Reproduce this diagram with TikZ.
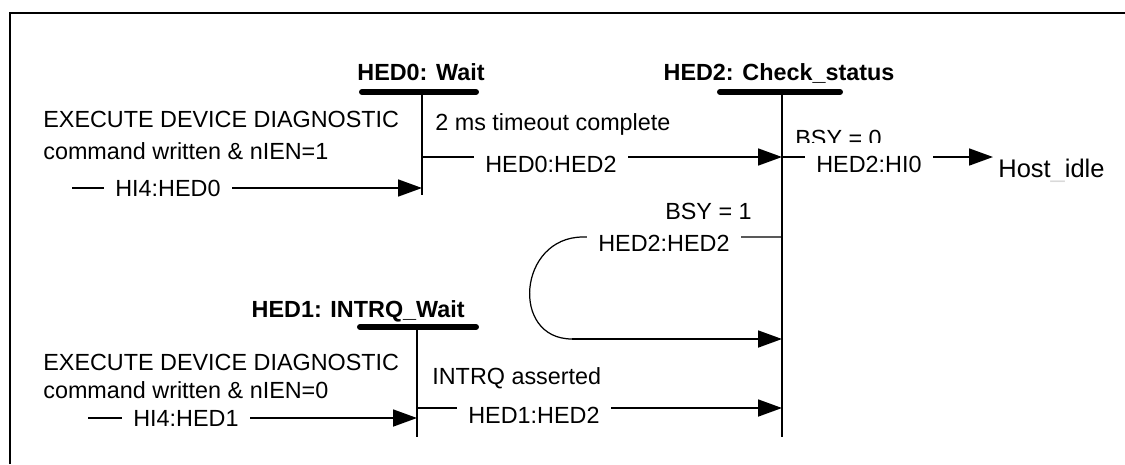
\documentclass[tikz,border=0pt]{standalone}
\usepackage{fontspec}
\setmainfont{Liberation Sans}
\usetikzlibrary{arrows.meta}
\begin{document}
\begin{tikzpicture}[x=0.02cm,y=-0.02cm,
  lbl/.style={font=\fontsize{13.3}{15}\selectfont, inner sep=0pt},
  ttl/.style={font=\fontsize{13.3}{15}\selectfont\bfseries, inner sep=0pt},
  cut/.style={lbl, fill=white, inner xsep=0.22cm, inner ysep=1pt, anchor=base west},
  bar/.style={line width=3.4pt, line cap=round},
  vline/.style={line width=1pt},
  conn/.style={line width=1pt, -{Triangle[length=0.48cm,width=0.34cm]}},
  loopline/.style={line width=0.7pt},
  frame/.style={line width=1.6pt}]
\useasboundingbox (0,0) rectangle (1125,464);
\draw[frame] (10,464) -- (10,13) -- (1125,13);

% state HED0
\node[ttl, anchor=base] (t0) at (421,80) {HED0: Wait};
\coordinate (b0l) at (362,92); \coordinate (b0r) at (476,92);
\draw[bar] (b0l) -- (b0r);
\coordinate (v0t) at (422,92); \coordinate (v0b) at (422,195);
\draw[vline] (v0t) -- (v0b);

% state HED2
\node[ttl, anchor=base] (t2) at (779,80) {HED2: Check\_status};
\coordinate (b2l) at (720,92); \coordinate (b2r) at (840,92);
\draw[bar] (b2l) -- (b2r);
\coordinate (v2t) at (782,92); \coordinate (v2b) at (782,437);
\draw[vline] (v2t) -- (v2b);

% state HED1
\node[ttl, anchor=base east] (t1) at (465,317) {HED1: INTRQ\_Wait};
\coordinate (b1l) at (360,327); \coordinate (b1r) at (476,327);
\draw[bar] (b1l) -- (b1r);
\coordinate (v1t) at (417,327); \coordinate (v1b) at (417,437);
\draw[vline] (v1t) -- (v1b);

% HI4:HED0
\node[lbl, anchor=base west] (c0a) at (43,127) {EXECUTE DEVICE DIAGNOSTIC};
\node[lbl, anchor=base west] (c0b) at (43,159) {command written \& nIEN=1};
\coordinate (a0s) at (72,188); \coordinate (a0e) at (422,188);
\draw[conn] (a0s) -- (a0e);
\node[cut] (l0) at (104,196) {HI4:HED0};

% HED0:HED2
\node[lbl, anchor=base west] (c02) at (435,130) {2 ms timeout complete};
\coordinate (a02s) at (422,157); \coordinate (a02e) at (782,157);
\draw[conn] (a02s) -- (a02e);
\node[cut] (l02) at (474,172) {HED0:HED2};

% HED2:HI0
\begin{scope}
\clip (790,100) rectangle (900,142);
\node[lbl, anchor=base west] (c2i) at (795,146) {BSY = 0};
\end{scope}
\node[font=\fontsize{14.5}{16}\selectfont, inner sep=0pt, anchor=base west] (idle) at (998,177) {Host\textcolor{black!15}{\_}idle};
\coordinate (a2is) at (782,157);
\coordinate (a2ie) at (993,157);
\draw[conn] (a2is) -- (a2ie);
\node[cut] (l2i) at (805,172) {HED2:HI0};

% HED2:HED2
\node[lbl, anchor=base east] (c22) at (752,219) {BSY = 1};
\coordinate (a22s) at (782,237);
\coordinate (a22m) at (583,237);
\coordinate (a22n) at (572,339);
\coordinate (a22e) at (782,339);
\draw[loopline] (a22s) -- (a22m) .. controls (518,237) and (510,339) .. (a22n);
\draw[conn] (a22n) -- (a22e);
\node[cut] (l22) at (587,251) {HED2:HED2};

% HI4:HED1
\node[lbl, anchor=base west] (c1a) at (43,370) {EXECUTE DEVICE DIAGNOSTIC};
\node[lbl, anchor=base west] (c1b) at (43,398) {command written \& nIEN=0};
\coordinate (a1s) at (88,418); \coordinate (a1e) at (417,418);
\draw[conn] (a1s) -- (a1e);
\node[cut] (l1) at (122,426) {HI4:HED1};

% HED1:HED2
\node[lbl, anchor=base west] (c12) at (432,384) {INTRQ asserted};
\coordinate (a12s) at (417,408); \coordinate (a12e) at (782,408);
\draw[conn] (a12s) -- (a12e);
\node[cut] (l12) at (457,423) {HED1:HED2};
\end{tikzpicture}
\end{document}
